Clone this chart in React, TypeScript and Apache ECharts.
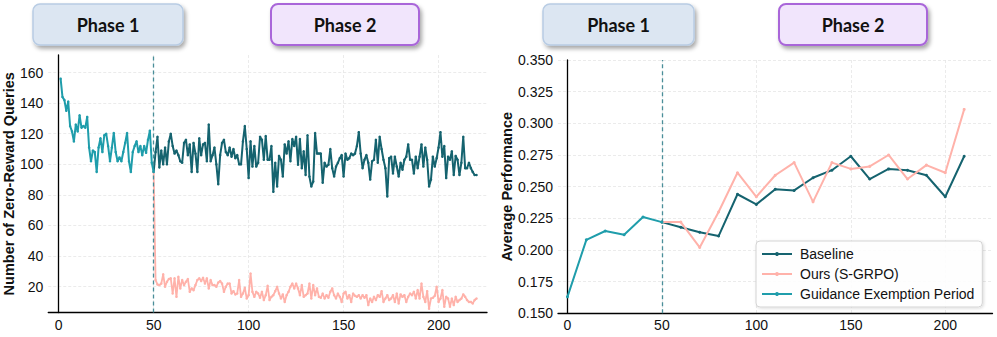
import React, { useEffect, useRef } from "react";
import * as echarts from "echarts";

// ---------- Left panel: number of zero-reward queries per step ----------
const guidanceStart = 1; // steps 1..50
const leftGuidance = [
  156, 144, 142, 135, 141, 125, 121.5, 115, 126, 121.5,
  132, 124, 125, 124, 131, 111, 102, 109, 108, 95,
  111, 117, 108, 119, 120, 112, 102, 111, 120.5, 108,
  102, 104.5, 102, 108, 114, 120.5, 102, 95, 108, 112,
  115, 108, 112, 106, 112, 107.5, 116, 122, 101, 95,
];
const phase2Start = 50; // steps 50..220
const leftBaseline = [
  95, 108, 118, 98, 109, 100, 111, 100, 115, 120,
  112, 107, 109, 106, 102, 101, 114, 116, 106, 113,
  95, 114, 107, 95, 117, 106, 113, 114, 102, 126,
  102, 106, 111, 100, 87, 106, 114, 116, 108, 106,
  111, 105, 110, 104, 106, 100, 100, 115, 125, 110,
  91,
  115, 98.5, 112, 98.5, 101, 118, 116, 103, 118.5, 103,
  103, 112, 82, 101, 85.5, 105.5, 103, 92, 113, 107,
  115, 102, 116.5, 112, 118, 99.7, 116.5, 97.5, 108.5, 93,
  119, 92, 85.5, 88.7, 120.5, 107, 107, 107, 88, 101,
  98.5, 99.7, 110, 97.5, 92, 98.5, 101, 104, 106, 92,
  107, 103, 104, 107, 106, 107, 112, 121, 107, 97.5,
  103, 106, 101, 90, 102, 103, 116, 101, 118, 110,
  103, 97.5, 79, 104, 105, 94, 105, 98.5, 92, 101,
  96.5, 103, 105, 113, 103, 103, 94, 105, 97.5, 105,
  113, 98.5, 111, 103, 85.5, 90, 105, 98.5, 104, 111,
  121, 105, 112, 91, 105, 103, 108.5, 93, 105.5, 103,
  93, 101, 118, 97.5, 97.5, 101, 97.5, 95, 93, 93,
];
const leftOurs = [
  95,
  24.3, 21.4, 21, 22, 28, 19.9, 23.2, 25, 25.4, 15.5,
  25.4, 13.3, 26.4, 18.8, 24.3, 21, 23.2, 25, 16.6, 18.8,
  17.7, 21, 24.3, 25.4, 23.6, 25.8, 22, 25.4, 18.8, 24.3,
  21, 21, 19.9, 22.7, 23.6, 22, 16.6, 19.9, 22, 22,
  15.5, 17, 14.9, 15.5, 24.3, 13.3, 15.5, 19.2, 12.2, 14.4,
  28.6, 16.6, 13.3, 16.6, 15.5, 12.7, 16.6, 11.2, 14.4, 20.5,
  11.2, 13.3, 14.4, 17, 19.9, 15.5, 12.2, 14.9, 10, 14.4,
  16.6, 19.9, 22, 18.8, 22, 18.8, 14.4, 21, 13.3, 14.4,
  15.5, 22, 12.2, 21, 14.4, 18.8, 13.3, 12.7, 15.5, 12.2,
  14.4, 12.7, 16.6, 18.8, 14.4, 12.2, 15.5, 13.3, 10, 15.5,
  16.6, 12.2, 14.4, 10, 15.5, 14, 13.3, 14.4, 12.2, 14.4,
  12.7, 14.4, 7.9, 12.2, 10, 13.3, 11.2, 14.4, 13.3, 17,
  10, 12.2, 14.4, 11.2, 12.2, 14.4, 10, 15.5, 9, 14.9,
  13.3, 14.4, 10, 13.3, 15.5, 14.4, 16.6, 12.2, 17.7, 12.2,
  22, 13.3, 10, 17, 5.6, 12.2, 12.7, 14, 19.9, 10,
  12.2, 17.7, 6.8, 13.3, 12.2, 6.8, 12.2, 7.9, 13.3, 10,
  11.2, 12.2, 14.9, 13.3, 11.2, 10, 10, 9, 11.2, 12.2,
];

// ---------- Right panel: average performance ----------
const rightGuidanceSteps = [0, 10, 20, 30, 40, 50];
const rightGuidance = [0.163, 0.208, 0.215, 0.212, 0.226, 0.222];
const rightPhase2Steps = [50, 60, 70, 80, 90, 100, 110, 120, 130, 140, 150, 160, 170, 180, 190, 200, 210];
const rightBaseline = [0.222, 0.218, 0.214, 0.211, 0.244, 0.236, 0.248, 0.247, 0.257, 0.263, 0.274, 0.256, 0.264, 0.263, 0.259, 0.242, 0.274];
const rightOurs = [0.222, 0.222, 0.202, 0.230, 0.261, 0.242, 0.259, 0.269, 0.238, 0.269, 0.264, 0.266, 0.275, 0.256, 0.267, 0.261, 0.311];

const phaseLabels = ["Phase 1", "Phase 2"];
const seriesNames = ["Baseline", "Ours (S-GRPO)", "Guidance Exemption Period"];
const boundaryStep = 50;

const C_BASE = "#15636f";
const C_OURS = "#ffb2aa";
const C_GUIDE = "#1f9dab";
const C_DASH = "#4a8e99";
const FONT = "'Liberation Sans', Arial, Helvetica, sans-serif";

export default function App() {
  const ref = useRef<HTMLDivElement>(null);

  useEffect(() => {
    document.body.style.margin = "0";
    if (!ref.current) return;
    const chart = echarts.init(ref.current, null, { renderer: "svg" });

    const pairs = (start: number, arr: number[]) => arr.map((v, i) => [start + i, v]);
    const zip = (xs: number[], ys: number[]) => xs.map((x, i) => [x, ys[i]]);

    const splitLine = {
      show: true,
      showMinLine: false,
      showMaxLine: false,
      lineStyle: { color: "#e6e6e6", type: [3, 2], width: 0.8 },
    };
    const axisLine = { show: true, lineStyle: { color: "#000", width: 1.3 } };
    const labelBase = { color: "#111", fontSize: 14, fontFamily: FONT };

    const dashLine = (xAxisIndex: number, yAxisIndex: number) => ({
      type: "line",
      xAxisIndex,
      yAxisIndex,
      data: [],
      silent: true,
      markLine: {
        silent: true,
        symbol: "none",
        label: { show: false },
        lineStyle: { color: C_DASH, type: [4, 3], width: 1.3 },
        data: [{ xAxis: boundaryStep }],
      },
    });

    const lineSeries = (
      name: string,
      color: string,
      data: number[][],
      xi: number,
      width: number,
      z: number,
      symbolSize: number
    ) => ({
      type: "line",
      name,
      xAxisIndex: xi,
      yAxisIndex: xi,
      data,
      z,
      symbol: "circle",
      symbolSize,
      showSymbol: true,
      itemStyle: { color },
      lineStyle: { color, width },
    });

    const mkBox = (x: number, w: number, label: string, fill: string, stroke: string, lw: number) => [
      {
        type: "rect",
        shape: { x, y: 4, width: w, height: 41, r: 7 },
        style: {
          fill,
          stroke,
          lineWidth: lw,
          shadowBlur: 4,
          shadowOffsetX: 2,
          shadowOffsetY: 3,
          shadowColor: "rgba(0,0,0,0.35)",
        },
        z: 10,
      },
      {
        type: "text",
        x: x + w / 2,
        y: 25,
        style: {
          text: label,
          fill: "#111",
          font: "bold 18px Lato, 'Liberation Sans', sans-serif",
          textAlign: "center",
          textVerticalAlign: "middle",
        },
        z: 11,
      },
    ];

    const nameStyle = { fontSize: 14.5, fontWeight: "bold", color: "#111", fontFamily: FONT };

    chart.setOption({
      animation: false,
      textStyle: { fontFamily: FONT },
      grid: [
        { left: 48, top: 55, width: 439, height: 257.6 },
        { left: 558, top: 60, width: 434.5, height: 253.3 },
      ],
      xAxis: [
        {
          gridIndex: 0,
          type: "value",
          min: -5.5,
          max: 225.5,
          minInterval: 50,
          maxInterval: 50,
          axisLine,
          axisTick: { show: false },
          axisLabel: {
            ...labelBase,
            margin: 5,
            showMinLabel: false,
            showMaxLabel: false,
            formatter: (v: number) => (Math.abs(v % 50) < 1e-6 ? String(v) : ""),
          },
          splitLine,
        },
        {
          gridIndex: 1,
          type: "value",
          min: -5,
          max: 225,
          minInterval: 50,
          maxInterval: 50,
          axisLine,
          axisTick: { show: false },
          axisLabel: {
            ...labelBase,
            margin: 5,
            showMinLabel: false,
            showMaxLabel: false,
            formatter: (v: number) => (Math.abs(v % 50) < 1e-6 ? String(v) : ""),
          },
          splitLine,
        },
      ],
      yAxis: [
        {
          gridIndex: 0,
          type: "value",
          min: 3,
          max: 171.5,
          minInterval: 20,
          maxInterval: 20,
          axisLine,
          axisTick: { show: false },
          axisLabel: {
            ...labelBase,
            margin: 5,
            showMinLabel: false,
            showMaxLabel: false,
            formatter: (v: number) => (Math.abs(v % 20) < 1e-6 ? String(v) : ""),
          },
          splitLine,
          name: "Number of Zero-Reward Queries",
          nameLocation: "middle",
          nameGap: 31,
          nameTextStyle: nameStyle,
        },
        {
          gridIndex: 1,
          type: "value",
          min: 0.15,
          max: 0.35,
          interval: 0.025,
          axisLine,
          axisTick: { show: false },
          axisLabel: {
            ...labelBase,
            margin: 5,
            formatter: (v: number) => v.toFixed(3),
          },
          splitLine: { ...splitLine, showMinLine: false, showMaxLine: true },
          name: "Average Performance",
          nameLocation: "middle",
          nameGap: 43,
          nameTextStyle: nameStyle,
        },
      ],
      legend: {
        data: seriesNames,
        orient: "vertical",
        left: 756,
        top: 241,
        itemWidth: 30,
        itemHeight: 5,
        itemGap: 6,
        padding: [6, 8, 6, 5],
        backgroundColor: "rgba(255,255,255,0.9)",
        borderColor: "#d4d4d4",
        borderWidth: 1,
        borderRadius: 4,
        shadowBlur: 3,
        shadowOffsetX: 1,
        shadowOffsetY: 1,
        shadowColor: "rgba(0,0,0,0.15)",
        selectedMode: false,
        textStyle: { fontSize: 14, color: "#111", fontFamily: FONT, padding: [0, 0, 0, 3] },
      },
      graphic: [
        ...mkBox(33, 150, phaseLabels[0], "#dce6f2", "#b8cce4", 1.5),
        ...mkBox(271, 148, phaseLabels[1], "#f1e5fc", "#a966d9", 2),
        ...mkBox(543, 151, phaseLabels[0], "#dce6f2", "#b8cce4", 1.5),
        ...mkBox(779, 148, phaseLabels[1], "#f1e5fc", "#a966d9", 2),
      ],
      series: [
        dashLine(0, 0),
        dashLine(1, 1),
        lineSeries(seriesNames[0], C_BASE, pairs(phase2Start, leftBaseline), 0, 2, 3, 2.5),
        lineSeries(seriesNames[1], C_OURS, pairs(phase2Start, leftOurs), 0, 1.8, 4, 2.5),
        lineSeries(seriesNames[2], C_GUIDE, pairs(guidanceStart, leftGuidance), 0, 2, 5, 2.5),
        lineSeries(seriesNames[0], C_BASE, zip(rightPhase2Steps, rightBaseline), 1, 2, 3, 3),
        lineSeries(seriesNames[1], C_OURS, zip(rightPhase2Steps, rightOurs), 1, 2, 4, 3),
        lineSeries(seriesNames[2], C_GUIDE, zip(rightGuidanceSteps, rightGuidance), 1, 2, 5, 3),
      ],
    });

    return () => chart.dispose();
  }, []);

  return <div ref={ref} style={{ width: 997, height: 337 }} />;
}
